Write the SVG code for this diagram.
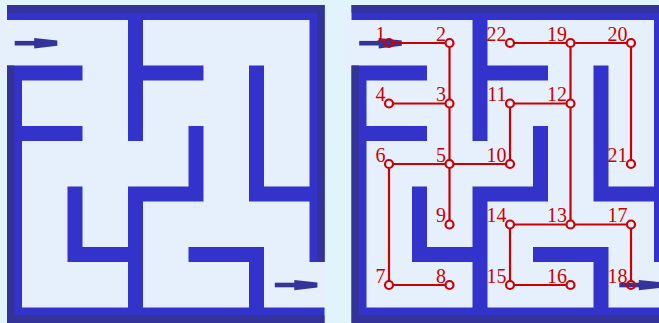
<svg xmlns="http://www.w3.org/2000/svg" xmlns:xlink="http://www.w3.org/1999/xlink" width="659" height="323" viewBox="0 0 659 323">
<style>
.wall{fill:none;stroke:#3333cc;stroke-width:15;stroke-linecap:square}
.dark{fill:none;stroke:#333399;stroke-width:7.5;stroke-linejoin:miter}
.inner{fill:#e6f0fd}
.arrow{fill:#333399;stroke:none}
.edge{fill:none;stroke:#cc0000;stroke-width:2.2}
.node circle{fill:none;stroke:#cc0000;stroke-width:2.2}
.node text{font-family:"Liberation Serif","DejaVu Serif",serif;font-size:20px;fill:#cc0000;text-anchor:end}
</style>
<defs>
<g id="arr">
<rect x="0" y="-2.3" width="22" height="4.6"/>
<polygon points="19.5,-5.1 42.6,-2.6 42.6,2.6 19.5,5.2"/>
</g>
<g id="maze">
<rect class="inner" x="14.5" y="12.5" width="302.5" height="302.5"/>
<rect class="inner" x="-1.5" y="12.5" width="23.5" height="60.5"/>
<rect class="inner" x="310" y="254.5" width="14.5" height="60.5"/>
<path class="wall" d="M14.5 12.5H317V254.5M14.5 73V315H317M14.5 73H75M14.5 133.5H75M135.5 12.5V133.5M135.5 73H196M196 133.5V194H135.5V315M256.5 73V194H317M75 194V254.5H135.5M196 254.5H256.5V315"/>
<path class="dark" d="M10.75 65.5V319.25H324.5"/>
<path class="dark" d="M7 8.75H321V262"/>
</g>
</defs>
<rect x="0" y="0" width="659" height="323" fill="#e1f4fb"/>
<g id="maze-left">
<use xlink:href="#maze" href="#maze"/>
<use class="arrow" xlink:href="#arr" href="#arr" x="14.7" y="43.2"/>
<use class="arrow" xlink:href="#arr" href="#arr" x="274.8" y="285"/>
</g>
<g id="maze-right" transform="translate(344.5,0)">
<use xlink:href="#maze" href="#maze"/>
<use class="arrow" xlink:href="#arr" href="#arr" x="14.7" y="43.2"/>
<use class="arrow" xlink:href="#arr" href="#arr" x="274.8" y="285"/>
</g>
<g id="connectors" class="edge">
<path d="M393.1 43H445.4"/>
<path d="M449.5 47.1V99.4"/>
<path d="M445.4 103.5H393.1"/>
<path d="M449.5 107.6V159.9"/>
<path d="M445.4 164H393.1"/>
<path d="M453.6 164H505.9"/>
<path d="M449.5 168.1V220.4"/>
<path d="M389 168.1V280.9"/>
<path d="M393.1 285H445.4"/>
<path d="M510 159.9V107.6"/>
<path d="M514.1 103.5H566.4"/>
<path d="M570.5 99.4V47.1"/>
<path d="M566.4 43H514.1"/>
<path d="M574.6 43H626.9"/>
<path d="M631 47.1V159.9"/>
<path d="M570.5 107.6V220.4"/>
<path d="M566.4 224.5H514.1"/>
<path d="M574.6 224.5H626.9"/>
<path d="M510 228.6V280.9"/>
<path d="M514.1 285H566.4"/>
<path d="M631 228.6V280.9"/>
</g>
<g id="n1" class="node"><circle cx="389" cy="43" r="4"/><text x="385.5" y="40.7">1</text></g>
<g id="n2" class="node"><circle cx="449.5" cy="43" r="4"/><text x="446" y="40.7">2</text></g>
<g id="n22" class="node"><circle cx="510" cy="43" r="4"/><text x="506.5" y="40.7">22</text></g>
<g id="n19" class="node"><circle cx="570.5" cy="43" r="4"/><text x="567" y="40.7">19</text></g>
<g id="n20" class="node"><circle cx="631" cy="43" r="4"/><text x="627.5" y="40.7">20</text></g>
<g id="n4" class="node"><circle cx="389" cy="103.5" r="4"/><text x="385.5" y="101.2">4</text></g>
<g id="n3" class="node"><circle cx="449.5" cy="103.5" r="4"/><text x="446" y="101.2">3</text></g>
<g id="n11" class="node"><circle cx="510" cy="103.5" r="4"/><text x="506.5" y="101.2">11</text></g>
<g id="n12" class="node"><circle cx="570.5" cy="103.5" r="4"/><text x="567" y="101.2">12</text></g>
<g id="n6" class="node"><circle cx="389" cy="164" r="4"/><text x="385.5" y="161.7">6</text></g>
<g id="n5" class="node"><circle cx="449.5" cy="164" r="4"/><text x="446" y="161.7">5</text></g>
<g id="n10" class="node"><circle cx="510" cy="164" r="4"/><text x="506.5" y="161.7">10</text></g>
<g id="n21" class="node"><circle cx="631" cy="164" r="4"/><text x="627.5" y="161.7">21</text></g>
<g id="n9" class="node"><circle cx="449.5" cy="224.5" r="4"/><text x="446" y="222.2">9</text></g>
<g id="n14" class="node"><circle cx="510" cy="224.5" r="4"/><text x="506.5" y="222.2">14</text></g>
<g id="n13" class="node"><circle cx="570.5" cy="224.5" r="4"/><text x="567" y="222.2">13</text></g>
<g id="n17" class="node"><circle cx="631" cy="224.5" r="4"/><text x="627.5" y="222.2">17</text></g>
<g id="n7" class="node"><circle cx="389" cy="285" r="4"/><text x="385.5" y="282.7">7</text></g>
<g id="n8" class="node"><circle cx="449.5" cy="285" r="4"/><text x="446" y="282.7">8</text></g>
<g id="n15" class="node"><circle cx="510" cy="285" r="4"/><text x="506.5" y="282.7">15</text></g>
<g id="n16" class="node"><circle cx="570.5" cy="285" r="4"/><text x="567" y="282.7">16</text></g>
<g id="n18" class="node"><circle cx="631" cy="285" r="4"/><text x="627.5" y="282.7">18</text></g>
</svg>
